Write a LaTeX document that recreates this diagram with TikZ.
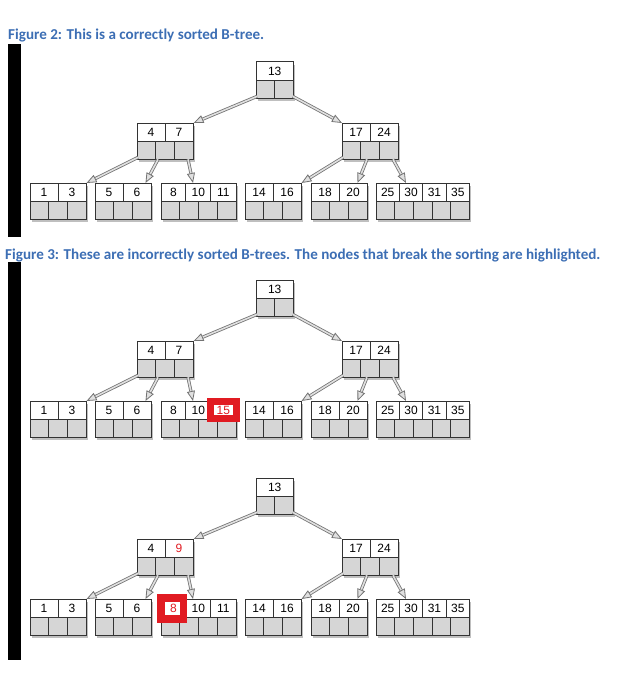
\documentclass[tikz,border=0pt]{standalone}
\usepackage{fontspec}
\usepackage{xcolor}
\newfontfamily\capfont{Carlito}
\newfontfamily\keyfont{Liberation Sans}
\usetikzlibrary{arrows, arrows.meta}
\usetikzlibrary{calc}
\usetikzlibrary{shadows}

\definecolor{capblue}{HTML}{3C6EB4}
\definecolor{hlred}{HTML}{E11B22}
\newcommand{\cellw}{18.7}

\tikzset{
  bbox/.style={rectangle, inner sep=0pt, minimum height=36pt, fill=gray!32,
    drop shadow={shadow xshift=1.5pt, shadow yshift=-3pt, fill=black!50, opacity=.5}},
  bline/.style={draw=black!80, line width=1pt},
  key/.style={inner sep=0pt, font=\keyfont\fontsize{12}{14}\selectfont},
  ptr/.style={draw=black!55, double=black!12, double distance=1.6pt, line width=0.8pt,
    -{Triangle[length=10pt, width=8pt, fill=black!12]}},
  hlframe/.style={draw=hlred, line width=7.5pt},
  caption/.style={inner sep=0pt, anchor=base west, text=capblue,
    font=\capfont\bfseries\fontsize{15.1}{18}\selectfont}
}

% one B-tree node: name, x, y (top left), number of keys, keys
\newcommand{\bnode}[5]{%
  \pgfmathsetmacro{\bw}{(#4+1)*\cellw}
  \node[bbox, minimum width=\bw pt, anchor=north west] (#1) at (#2,#3) {};
  \fill[white] (#1.north west) rectangle (#1.east);
  \draw[bline] (#1.west) -- (#1.east);
  \foreach \k [count=\i] in {#5} {
    \node[key] (#1-\i) at ({#2+(\i-0.5)*\bw/#4},#3-9) {\k};
    \ifnum\i>1 \draw[bline] ({#2+(\i-1)*\bw/#4},#3) -- ++(0,-18); \fi
  }
  \foreach \i in {1,...,#4} \draw[bline] ({#2+\i*\cellw},#3-18) -- ++(0,-18);
  \draw[bline] (#1.north west) rectangle (#1.south east);
}

% whole tree: prefix, y shift, keys of left inner node, keys of third leaf
\newcommand{\btree}[4]{%
  \begin{scope}[yshift=#2]
    \bnode{#1r}{256}{-62}{1}{13}
    \bnode{#1p}{137}{-123}{2}{#3}
    \bnode{#1q}{342}{-123}{2}{17,24}
    \bnode{#1c1}{30}{-183}{2}{1,3}
    \bnode{#1c2}{95}{-183}{2}{5,6}
    \bnode{#1c3}{161}{-183}{3}{#4}
    \bnode{#1c4}{245}{-183}{2}{14,16}
    \bnode{#1c5}{311}{-183}{2}{18,20}
    \bnode{#1c6}{376}{-183}{4}{25,30,31,35}

    \draw[ptr] ($(#1r.south west)+(1,2)$) -- (#1p.north east);
    \draw[ptr] ($(#1r.south east)+(-1,2)$) -- (#1q.north west);
    \draw[ptr] ($(#1p.south west)+(1,2)$) -- (#1c1.north east);
    \draw[ptr] ($(#1p.south west)+(21,0)$) -- ($(#1c2.north east)+(-6,0)$);
    \draw[ptr] ($(#1p.south west)+(51,0)$) -- ($(#1c3.north west)+(32,0)$);
    \draw[ptr] ($(#1q.south west)+(1,2)$) -- (#1c4.north east);
    \draw[ptr] ($(#1q.south west)+(25,0)$) -- ($(#1c5.north east)+(-10,0)$);
    \draw[ptr] ($(#1q.south west)+(51,0)$) -- ($(#1c6.north west)+(30,0)$);
  \end{scope}
}

\begin{document}
\begin{tikzpicture}[x=1pt, y=1pt]
  \useasboundingbox (0,0) rectangle (620,-677);

  \node[caption] (cap2) at (8,-39.5) {Figure 2: This is a correctly sorted B-tree.};
  \node[caption] (cap3) at (5,-259) {Figure 3: These are incorrectly sorted B-trees. The nodes that break the sorting are highlighted.};

  \fill (8,-44) rectangle (20.5,-237);
  \fill (8,-262) rectangle (20.5,-660);

  \btree{t1}{0}{4,7}{8,10,11}
  \btree{t2}{-218}{4,7}{8,10,\textcolor{hlred}{15}}
  \btree{t3}{-416}{4,\textcolor{hlred}{9}}{\textcolor{hlred}{8},10,11}

  % highlighted keys
  \draw[hlframe] ($(t2c3-3)+(-13,-8.5)$) rectangle ($(t2c3-3)+(13,8.5)$);
  \draw[hlframe] ($(t3c3-1)+(-12.5,-11)$) rectangle ($(t3c3-1)+(10,10)$);
\end{tikzpicture}
\end{document}
